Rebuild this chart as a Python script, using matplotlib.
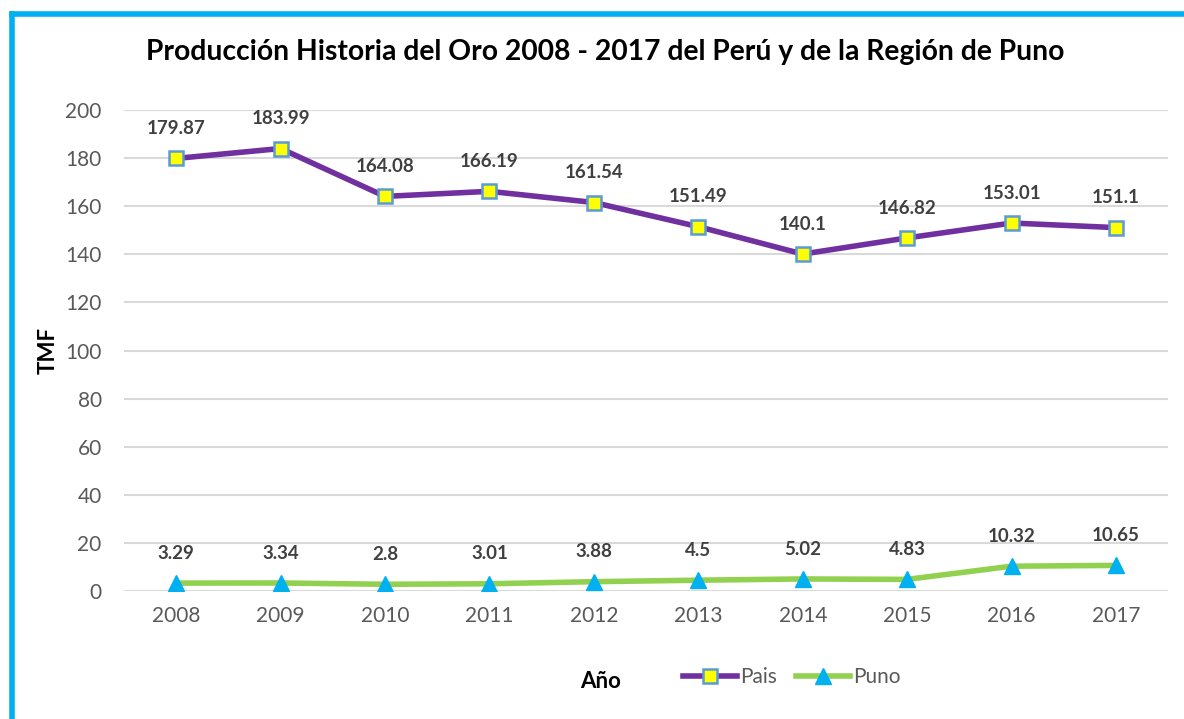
import matplotlib
matplotlib.use("Agg")
import matplotlib.pyplot as plt
from matplotlib.lines import Line2D

years = ["2008", "2009", "2010", "2011", "2012", "2013", "2014", "2015", "2016", "2017"]
pais = [179.87, 183.99, 164.08, 166.19, 161.54, 151.49, 140.1, 146.82, 153.01, 151.1]
puno = [3.29, 3.34, 2.8, 3.01, 3.88, 4.5, 5.02, 4.83, 10.32, 10.65]
pais_labels = ["179.87", "183.99", "164.08", "166.19", "161.54", "151.49", "140.1", "146.82", "153.01", "151.1"]
puno_labels = ["3.29", "3.34", "2.8", "3.01", "3.88", "4.5", "5.02", "4.83", "10.32", "10.65"]
yticks = [0, 20, 40, 60, 80, 100, 120, 140, 160, 180, 200]

plt.rcParams["font.family"] = ["Lato", "DejaVu Sans"]

fig = plt.figure(figsize=(11.84, 7.19), dpi=100)
fig.patch.set_facecolor("white")
ax = fig.add_axes([0.1047, 0.178, 0.882, 0.669])

x = list(range(len(years)))
ax.plot(x, pais, color="#7030A0", lw=4, marker="s", markersize=10,
        markerfacecolor="#FFFF00", markeredgecolor="#5B9BD5", markeredgewidth=1.8,
        solid_capstyle="round", zorder=3)
ax.plot(x, puno, color="#92D050", lw=4, marker="^", markersize=11,
        markerfacecolor="#00B0F0", markeredgecolor="#00B0F0",
        solid_capstyle="round", zorder=3)

for xi, v, s in zip(x, pais, pais_labels):
    ax.annotate(s, (xi, v), xytext=(0, 21.5), textcoords="offset points",
                ha="center", va="center", fontsize=13.5, fontweight="bold", color="#404040")
for xi, v, s in zip(x, puno, puno_labels):
    ax.annotate(s, (xi, v), xytext=(0, 21.5), textcoords="offset points",
                ha="center", va="center", fontsize=13.5, fontweight="bold", color="#404040")

ax.set_xlim(-0.5, 9.5)
ax.set_ylim(0, 200)
ax.set_yticks(yticks)
ax.set_xticks(x)
ax.set_xticklabels(years)
ax.tick_params(axis="both", length=0, labelsize=15, labelcolor="#595959")
ax.tick_params(axis="x", pad=11)
ax.tick_params(axis="y", pad=16)
ax.grid(axis="y", color="#D9D9D9", lw=1.5)
ax.set_axisbelow(True)
for sp in ax.spines.values():
    sp.set_visible(False)

ax.set_ylabel("TMF", fontsize=16, fontweight="bold", color="black", labelpad=5)
fig.text(0.507, 0.052, "Año", fontsize=16, fontweight="bold", ha="center", va="center")

fig.text(0.511, 0.927, "Producción Historia del Oro 2008 - 2017 del Perú y de la Región de Puno",
         fontsize=20.3, fontweight="bold", ha="center", va="center")

handles = [
    Line2D([], [], color="#7030A0", lw=4, marker="s", markersize=10,
           markerfacecolor="#FFFF00", markeredgecolor="#5B9BD5", markeredgewidth=1.8),
    Line2D([], [], color="#92D050", lw=4, marker="^", markersize=11,
           markerfacecolor="#00B0F0", markeredgecolor="#00B0F0"),
]
fig.legend(handles, ["Pais", "Puno"], loc="center", bbox_to_anchor=(0.669, 0.058),
           ncol=2, frameon=False, fontsize=15, handlelength=2.6, handletextpad=0.15,
           columnspacing=0.9, labelcolor="#595959")

# frame edge
fig.add_artist(Line2D([0.0105, 0.0105], [0.0, 0.981], color="#00B0F0", lw=4,
                      transform=fig.transFigure, solid_capstyle="projecting"))
fig.add_artist(Line2D([0.0105, 1.0], [0.981, 0.981], color="#00B0F0", lw=4,
                      transform=fig.transFigure, solid_capstyle="projecting"))

fig.savefig("out.png", dpi=100, facecolor="white")
